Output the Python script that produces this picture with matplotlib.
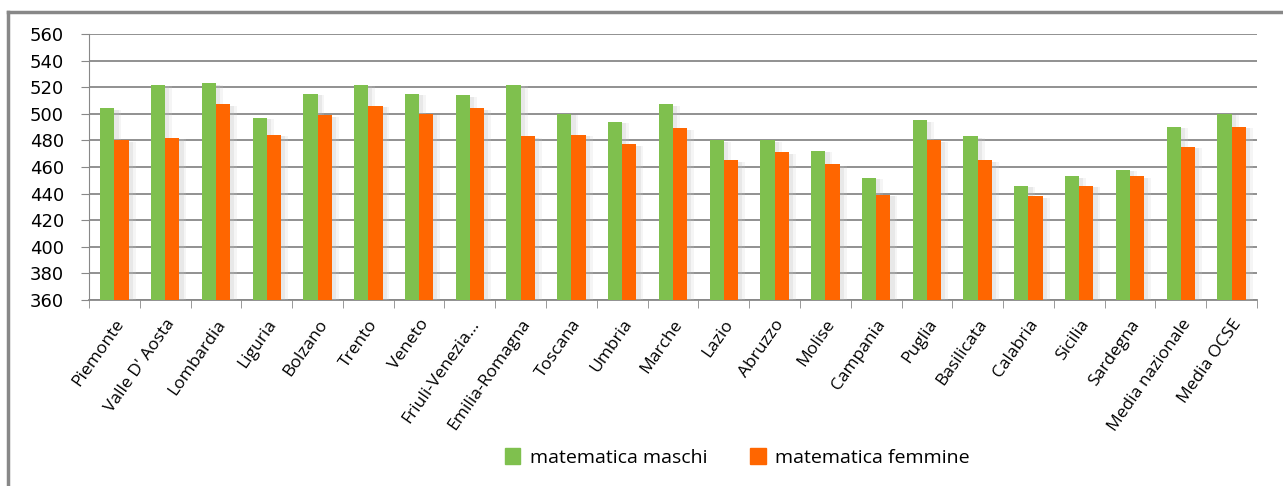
import matplotlib.pyplot as plt
import matplotlib.patheffects as pe
from matplotlib.lines import Line2D
from matplotlib.patches import Patch
import numpy as np

# Punteggi medi in matematica per regione e genere
regioni = ["Piemonte", "Valle D' Aosta", "Lombardia", "Liguria", "Bolzano", "Trento",
           "Veneto", "Friuli-Venezia...", "Emilia-Romagna", "Toscana", "Umbria", "Marche",
           "Lazio", "Abruzzo", "Molise", "Campania", "Puglia", "Basilicata", "Calabria",
           "Sicilia", "Sardegna", "Media nazionale", "Media OCSE"]
maschi = [504, 522, 523, 497, 515, 522, 515, 514, 522, 500, 494, 507,
          480, 480, 472, 452, 495, 483, 446, 453, 458, 490, 500]
femmine = [480, 482, 507, 484, 499, 506, 500, 504, 483, 484, 477, 489,
           465, 471, 462, 439, 480, 465, 438, 446, 453, 475, 490]
y_ticks = list(range(360, 561, 20))

VERDE = "#7fc04e"
ARANCIO = "#ff6600"
GRIGIO = "#888888"

fig = plt.figure(figsize=(12.83, 4.86), dpi=100)
ax = fig.add_axes([89 / 1283, 1 - 300 / 486, 1168 / 1283, 266 / 486])

x = np.arange(len(regioni))
w = 0.28
# ombra morbida a destra delle barre
ombra = [pe.SimplePatchShadow(offset=(5, -1), shadow_rgbFace="#cccccc", alpha=0.18),
         pe.SimplePatchShadow(offset=(3, -1), shadow_rgbFace="#bbbbbb", alpha=0.22),
         pe.Normal()]
ax.bar(x - w / 2, [m - 360 for m in maschi], w, bottom=360, color=VERDE,
       zorder=3, path_effects=ombra)
ax.bar(x + w / 2, [f - 360 for f in femmine], w, bottom=360, color=ARANCIO,
       zorder=3, path_effects=ombra)

ax.set_xlim(-0.5, len(regioni) - 0.5)
ax.set_ylim(360, 560)
ax.set_yticks(y_ticks)
ax.yaxis.grid(True, color=GRIGIO, linewidth=1.3, zorder=0)
ax.set_axisbelow(True)

for s in ["top", "right"]:
    ax.spines[s].set_visible(False)
ax.spines["left"].set_color(GRIGIO)
ax.spines["bottom"].set_color(GRIGIO)
ax.spines["bottom"].set_linewidth(1.3)

ax.set_xticks(np.arange(len(regioni) + 1) - 0.5, minor=True)
ax.set_xticks(x)
ax.set_xticklabels(regioni, rotation=55, ha="right", rotation_mode="anchor",
                   fontsize=12.5, family="Open Sans")
ax.tick_params(axis="x", which="major", length=0, pad=12)
ax.tick_params(axis="x", which="minor", length=6, color=GRIGIO)
ax.tick_params(axis="y", length=6, color=GRIGIO, labelsize=13, pad=12)

maniglie = [Patch(color=VERDE, label="matematica maschi"),
            Patch(color=ARANCIO, label="matematica femmine")]
ax.legend(handles=maniglie, loc="upper center", bbox_to_anchor=(0.555, -0.49), ncol=2,
          frameon=False, handlelength=0.8, handleheight=0.9, columnspacing=2.2,
          handletextpad=0.5, prop={"family": "Open Sans", "size": 14})

# cornice grigia esterna
fig.add_artist(Line2D([8 / 1283, 8 / 1283], [0, 1 - 12 / 486], color=GRIGIO, linewidth=2.5,
                      transform=fig.transFigure))
fig.add_artist(Line2D([8 / 1283, 1], [1 - 12 / 486, 1 - 12 / 486], color=GRIGIO, linewidth=2.5,
                      transform=fig.transFigure))

fig.savefig("out.png", dpi=100)
